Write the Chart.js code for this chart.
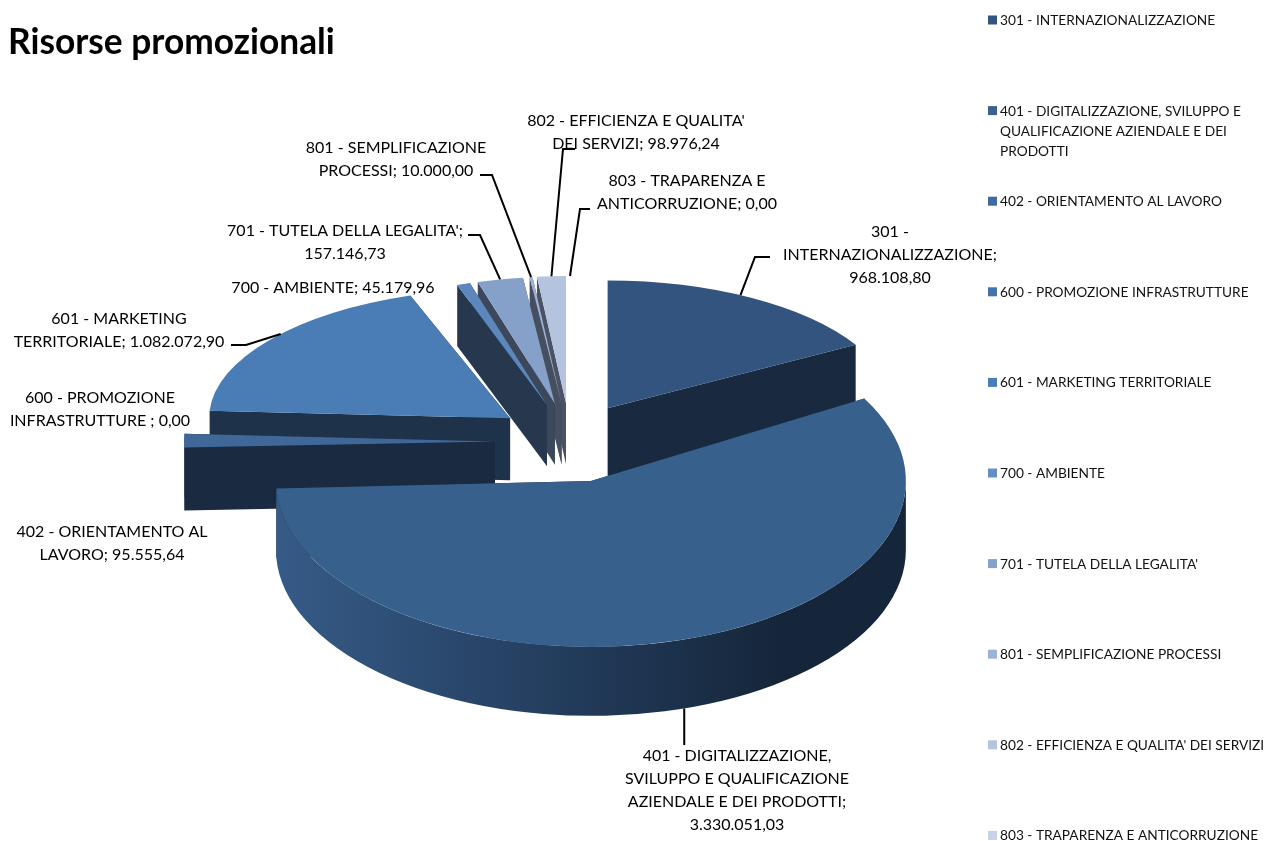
<!DOCTYPE html>
<html>
<head>
<meta charset="utf-8">
<title>Risorse promozionali</title>
<script src="https://cdn.jsdelivr.net/npm/chart.js@4/dist/chart.umd.min.js"></script>
<style>
  html, body { margin: 0; padding: 0; background: #fff; }
  #wrap { position: relative; width: 1266px; height: 841px; }
</style>
</head>
<body>
<div id="wrap"><canvas id="chart"></canvas></div>
<script>
const categories = [
  "301 - INTERNAZIONALIZZAZIONE",
  "401 - DIGITALIZZAZIONE, SVILUPPO E QUALIFICAZIONE AZIENDALE E DEI PRODOTTI",
  "402 - ORIENTAMENTO AL LAVORO",
  "600 - PROMOZIONE INFRASTRUTTURE",
  "601 - MARKETING TERRITORIALE",
  "700 - AMBIENTE",
  "701 - TUTELA DELLA LEGALITA'",
  "801 - SEMPLIFICAZIONE PROCESSI",
  "802 - EFFICIENZA E QUALITA' DEI SERVIZI",
  "803 - TRAPARENZA E ANTICORRUZIONE"
];
const values = [968108.80, 3330051.03, 95555.64, 0, 1082072.90, 45179.96, 157146.73, 10000, 98976.24, 0];

const legendLines = [
  ["301 - INTERNAZIONALIZZAZIONE"],
  ["401 - DIGITALIZZAZIONE, SVILUPPO E", "QUALIFICAZIONE AZIENDALE E DEI", "PRODOTTI"],
  ["402 - ORIENTAMENTO AL LAVORO"],
  ["600 - PROMOZIONE INFRASTRUTTURE"],
  ["601 - MARKETING TERRITORIALE"],
  ["700 - AMBIENTE"],
  ["701 - TUTELA DELLA LEGALITA'"],
  ["801 - SEMPLIFICAZIONE PROCESSI"],
  ["802 - EFFICIENZA E QUALITA' DEI SERVIZI"],
  ["803 - TRAPARENZA E ANTICORRUZIONE"]
];
const labelLines = [
  ["301 -", "INTERNAZIONALIZZAZIONE;", "968.108,80"],
  ["401 - DIGITALIZZAZIONE,", "SVILUPPO E QUALIFICAZIONE", "AZIENDALE E DEI PRODOTTI;", "3.330.051,03"],
  ["402 - ORIENTAMENTO AL", "LAVORO; 95.555,64"],
  ["600 - PROMOZIONE", "INFRASTRUTTURE ; 0,00"],
  ["601 - MARKETING", "TERRITORIALE; 1.082.072,90"],
  ["700 - AMBIENTE; 45.179,96"],
  ["701 - TUTELA DELLA LEGALITA';", "157.146,73"],
  ["801 - SEMPLIFICAZIONE", "PROCESSI; 10.000,00"],
  ["802 - EFFICIENZA E QUALITA'", "DEI SERVIZI; 98.976,24"],
  ["803 - TRAPARENZA E", "ANTICORRUZIONE; 0,00"]
];

// styles
const topColors = ["#33547f", "#38608c", "#3f6899", "#4472ad", "#4a7cb5", "#5b87bd", "#86a1c9", "#9db2d4", "#b4c4de", "#c6d2e6"];
const legendColors = ["#33547f", "#3a618f", "#3f6ba3", "#4472ad", "#4a7db8", "#648fc6", "#86a2ca", "#9db2d4", "#b4c4de", "#c6d2e6"];
const wallColors = ["#192a40", "#192a40", "#1a2a40", "#1c2e45", "#1e3249", "#27384e", "#3c475b", "#464f60", "#4a5263", "#4a5263"];

// the original is a 3D pie in perspective: each slice looks a bit different in size
const scaleX = [0.94, 1.036, 1.023, 1, 0.99, 0.89, 0.89, 0.89, 0.89, 0.89];
const scaleY = [0.42, 0.546, 0.437, 0.428, 0.428, 0.418, 0.418, 0.418, 0.418, 0.418];
const wallDepth = [68, 69, 63, 63, 62, 61, 61, 61, 61, 61];

// label block: centre x, first line y, leader start and elbow, where on the slice the leader lands
const labelPos = [
  { x: 890, y: 232, elbow: [[770, 257], [755, 257]], at: 0.46 },
  { x: 737, y: 756, elbow: [], at: 0.495 },
  { x: 112, y: 532, elbow: null },
  { x: 100, y: 398, elbow: null },
  { x: 119, y: 319, elbow: [[231, 345], [246, 345]], at: 0.55 },
  { x: 333, y: 288, elbow: null },
  { x: 345, y: 231, elbow: [[468, 235], [480, 235]], at: 0.5 },
  { x: 396, y: 148, elbow: [[480, 175], [492, 175]], at: 0.5 },
  { x: 636, y: 121, elbow: [[575, 149], [563, 149]], at: 0.5 },
  { x: 687, y: 181, elbow: [[590, 209], [580, 209]], at: 0.5 }
];

const FONT = "Lato, 'Open Sans', sans-serif";
const EXPLODE = 75;
const RADIUS = 304;

function sliceGeometry(arc, i) {
  let { x, y, startAngle, endAngle } = arc.getProps(['x', 'y', 'startAngle', 'endAngle'], true);
  let mid = (startAngle + endAngle) / 2;
  let v = EXPLODE * Math.sin(mid);
  return {
    x, y, startAngle, endAngle, mid, v,
    ax: x + EXPLODE * Math.cos(mid),
    ay: y + v * (0.53 + 0.0002 * v),
    rx: RADIUS * scaleX[i],
    ry: RADIUS * scaleY[i],
    depth: wallDepth[i]
  };
}

function edgePoint(g, angle) {
  return [g.ax + g.rx * Math.cos(angle), g.ay + g.ry * Math.sin(angle)];
}

function drawCutWall(ctx, g, angle, color) {
  let p = edgePoint(g, angle);
  ctx.beginPath();
  ctx.moveTo(g.ax, g.ay);
  ctx.lineTo(p[0], p[1]);
  ctx.lineTo(p[0], p[1] + g.depth);
  ctx.lineTo(g.ax, g.ay + g.depth);
  ctx.closePath();
  ctx.fillStyle = color;
  ctx.fill();
}

function drawOuterWall(ctx, g, color) {
  let from = Math.max(g.startAngle, 0);
  let to = Math.min(g.endAngle, Math.PI);
  if (to <= from) return;
  let fill = color;
  if (to - from > 1) {
    fill = ctx.createLinearGradient(g.ax - g.rx, 0, g.ax + g.rx, 0);
    fill.addColorStop(0, "#365b87");
    fill.addColorStop(0.55, "#1f3653");
    fill.addColorStop(0.8, "#15263a");
    fill.addColorStop(1, "#15263a");
  }
  ctx.beginPath();
  ctx.ellipse(g.ax, g.ay, g.rx, g.ry, 0, from, to);
  ctx.ellipse(g.ax, g.ay + g.depth, g.rx, g.ry, 0, to, from, true);
  ctx.closePath();
  ctx.fillStyle = fill;
  ctx.fill();
}

const pie3d = {
  id: 'pie3d',
  beforeDatasetsDraw(chart) {
    let ctx = chart.ctx;
    let arcs = chart.getDatasetMeta(0).data;
    let order = arcs.map((arc, i) => ({ arc, i, g: sliceGeometry(arc, i) }))
      .filter((item) => item.g.endAngle > item.g.startAngle)
      .sort((a, b) => a.g.v - b.g.v);
    for (let item of order) {
      let g = item.g;
      drawCutWall(ctx, g, g.startAngle, wallColors[item.i]);
      drawCutWall(ctx, g, g.endAngle, wallColors[item.i]);
      drawOuterWall(ctx, g, wallColors[item.i]);
      ctx.save();
      ctx.translate(g.ax, g.ay);
      ctx.scale(g.rx / RADIUS, g.ry / RADIUS);
      ctx.translate(-g.x, -g.y);
      item.arc.draw(ctx);
      ctx.restore();
    }
    return false;
  },
  afterDraw(chart) {
    let ctx = chart.ctx;
    let arcs = chart.getDatasetMeta(0).data;
    ctx.save();

    // leaders
    ctx.strokeStyle = "#000";
    ctx.lineWidth = 2;
    labelPos.forEach((pos, i) => {
      if (!pos.elbow) return;
      let g = sliceGeometry(arcs[i], i);
      let angle = g.startAngle + (g.endAngle - g.startAngle) * pos.at;
      let p = edgePoint(g, angle);
      let py = Math.sin(angle) > 0 ? p[1] + g.depth : p[1];
      ctx.beginPath();
      if (pos.elbow.length) {
        ctx.moveTo(pos.elbow[0][0], pos.elbow[0][1]);
        ctx.lineTo(pos.elbow[1][0], pos.elbow[1][1]);
        ctx.lineTo(p[0], py);
      } else {
        ctx.moveTo(p[0], py);
        ctx.lineTo(p[0], pos.y - 11);
      }
      ctx.stroke();
    });

    // data labels
    ctx.fillStyle = "#000";
    ctx.textAlign = "center";
    ctx.textBaseline = "middle";
    ctx.font = "16px " + FONT;
    labelLines.forEach((lines, i) => {
      lines.forEach((line, n) => {
        ctx.fillText(line, labelPos[i].x, labelPos[i].y + n * 23);
      });
    });

    // legend, one entry every 90.6px
    ctx.textAlign = "left";
    ctx.font = "13.7px " + FONT;
    legendLines.forEach((lines, i) => {
      let y = 20 + i * 90.6;
      ctx.fillStyle = legendColors[i];
      ctx.fillRect(988, y - 4.5, 9, 9);
      ctx.fillStyle = "#111";
      lines.forEach((line, n) => {
        ctx.fillText(line, 1000, y + 0.5 + n * 20);
      });
    });
    ctx.restore();
  }
};

new Chart(document.getElementById('chart'), {
  type: 'pie',
  data: {
    labels: categories,
    datasets: [{
      data: values,
      backgroundColor: topColors,
      borderWidth: 0
    }]
  },
  options: {
    responsive: true,
    maintainAspectRatio: false,
    animation: false,
    radius: RADIUS,
    layout: {
      padding: { left: 8, right: 134, top: 0, bottom: 21 }
    },
    plugins: {
      legend: { display: false },
      tooltip: { enabled: false },
      title: {
        display: true,
        text: 'Risorse promozionali',
        align: 'start',
        color: '#000',
        font: { family: FONT, size: 35.3, weight: 'bold' },
        padding: { top: 21, bottom: 0 }
      }
    }
  },
  plugins: [pie3d]
});
</script>
</body>
</html>
